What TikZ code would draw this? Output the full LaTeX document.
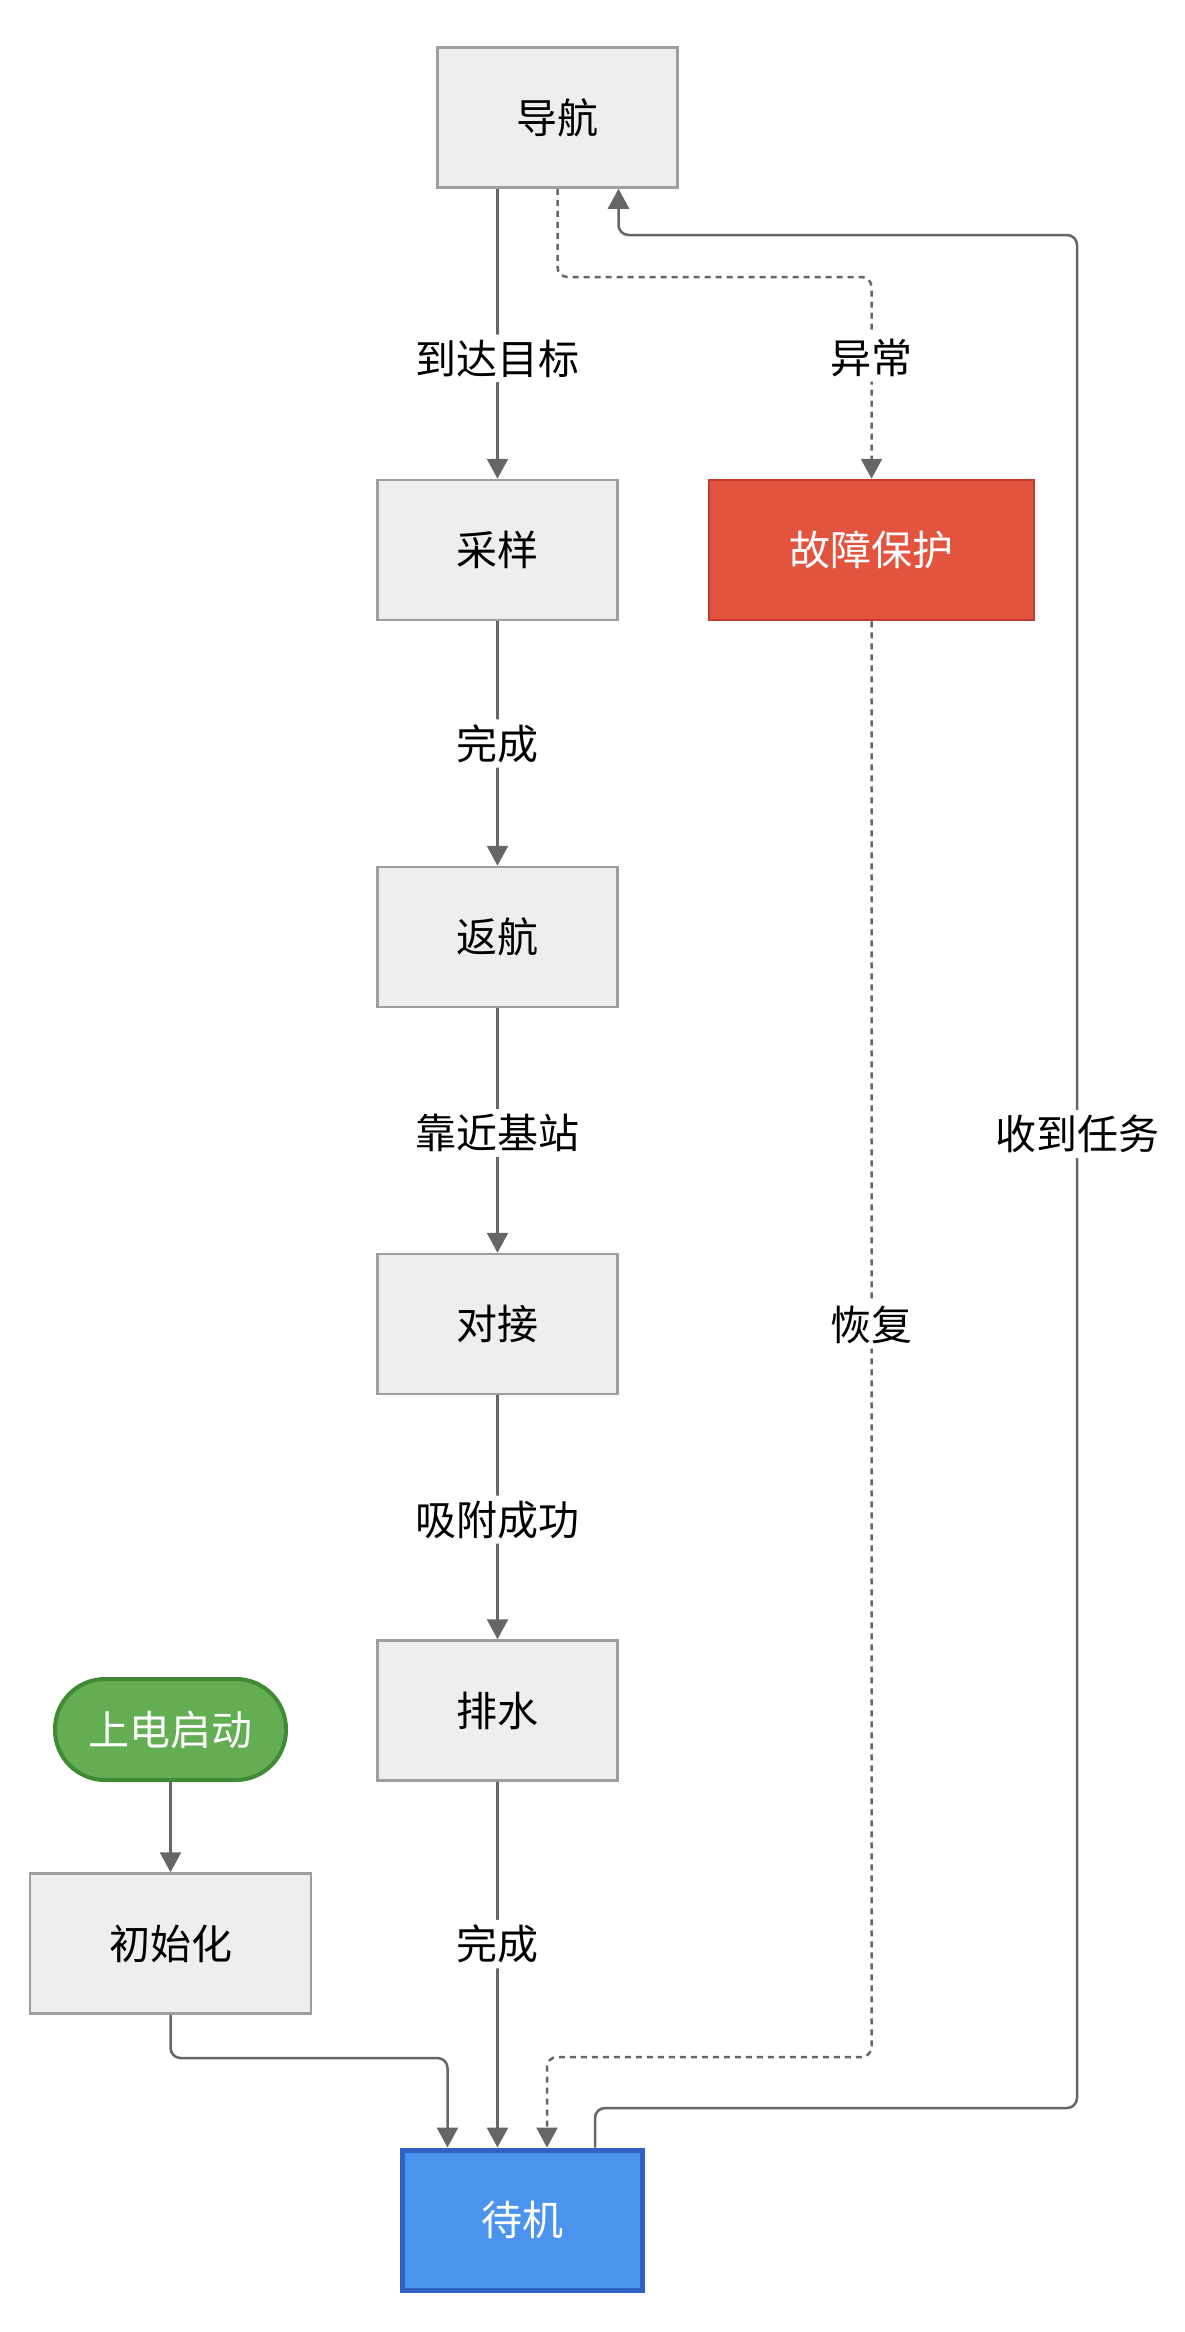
\documentclass[tikz,border=0pt]{standalone}
\usepackage{fontspec}
\setmainfont{Noto Sans CJK SC}
\usetikzlibrary{arrows.meta}
\definecolor{boxfill}{HTML}{EEEEEE}
\definecolor{boxline}{HTML}{9E9E9E}
\definecolor{redfill}{HTML}{E3543F}
\definecolor{redline}{HTML}{C43A2D}
\definecolor{greenfill}{HTML}{63AD52}
\definecolor{greenline}{HTML}{3F8A34}
\definecolor{bluefill}{HTML}{4A94EE}
\definecolor{blueline}{HTML}{2F62C4}
\definecolor{conncol}{HTML}{666666}
\begin{document}
\begin{tikzpicture}[x=1pt,y=-1pt,
  statebox/.style={draw=boxline, fill=boxfill, line width=2.5pt, minimum width=240pt, minimum height=140pt, inner sep=0pt, font=\fontsize{41}{48}\selectfont},
  faultbox/.style={statebox, draw=redline, fill=redfill, text=white, minimum width=325pt},
  startpill/.style={draw=greenline, fill=greenfill, text=white, line width=4pt, rounded corners=50pt, minimum width=231pt, minimum height=101pt, inner sep=0pt, font=\fontsize{41}{48}\selectfont},
  waitbox/.style={statebox, draw=blueline, fill=bluefill, text=white, line width=5pt, minimum height=140pt},
  lbl/.style={fill=white, inner sep=5pt, font=\fontsize{41}{48}\selectfont},
  conn/.style={draw=conncol, line width=2.5pt, rounded corners=10pt, -{Triangle[length=20pt,width=21pt]}},
  dconn/.style={conn, dash pattern=on 6pt off 5pt}
]
\useasboundingbox (0,0) rectangle (1184,2332);

\node[statebox] (nav) at (557.5,117.5) {导航};
\node[statebox] (cai) at (497.5,550) {采样};
\node[faultbox] (fault) at (871.5,550) {故障保护};
\node[statebox] (back) at (497.5,937) {返航};
\node[statebox] (dock) at (497.5,1324) {对接};
\node[statebox] (pai) at (497.5,1710.5) {排水};
\node[startpill] (start) at (170.5,1729.5) {上电启动};
\node[statebox, minimum width=281pt] (init) at (170.5,1943.5) {初始化};
\node[waitbox] (wait) at (522.5,2220) {待机};

\coordinate (exc) at (557.5,277);
\coordinate (rec) at (871.5,2057);
\coordinate (ih) at (447.5,2058);
\coordinate (loopB) at (1077,2108);
\coordinate (loopT) at (1077,235);

% main chain
\draw[conn] (cai.north |- nav.south) -- node[lbl,pos=0.585]{到达目标} (cai.north);
\draw[conn] (cai.south) -- node[lbl,pos=0.5]{完成} (back.north);
\draw[conn] (back.south) -- node[lbl,pos=0.51]{靠近基站} (dock.north);
\draw[conn] (dock.south) -- node[lbl,pos=0.51]{吸附成功} (pai.north);
\draw[conn] (pai.south) -- node[lbl,pos=0.444]{完成} ([xshift=-25]wait.north);

% fault paths
\draw[dconn] (nav.south) -- (exc) -| node[lbl,pos=0.7]{异常} (fault.north);
\draw[dconn] (fault.south) -- node[lbl,pos=0.49]{恢复} (rec) -| ([xshift=24.5]wait.north);

% start-up
\draw[conn] (start.south) -- (init.north);
\draw[conn] (init.south) |- (ih) -- ([xshift=-75]wait.north);

% task loop
\draw[conn] ([xshift=72.5]wait.north) |- (loopB) -- node[lbl,pos=0.52]{收到任务} (loopT) -| ([xshift=61]nav.south);
\end{tikzpicture}
\end{document}
